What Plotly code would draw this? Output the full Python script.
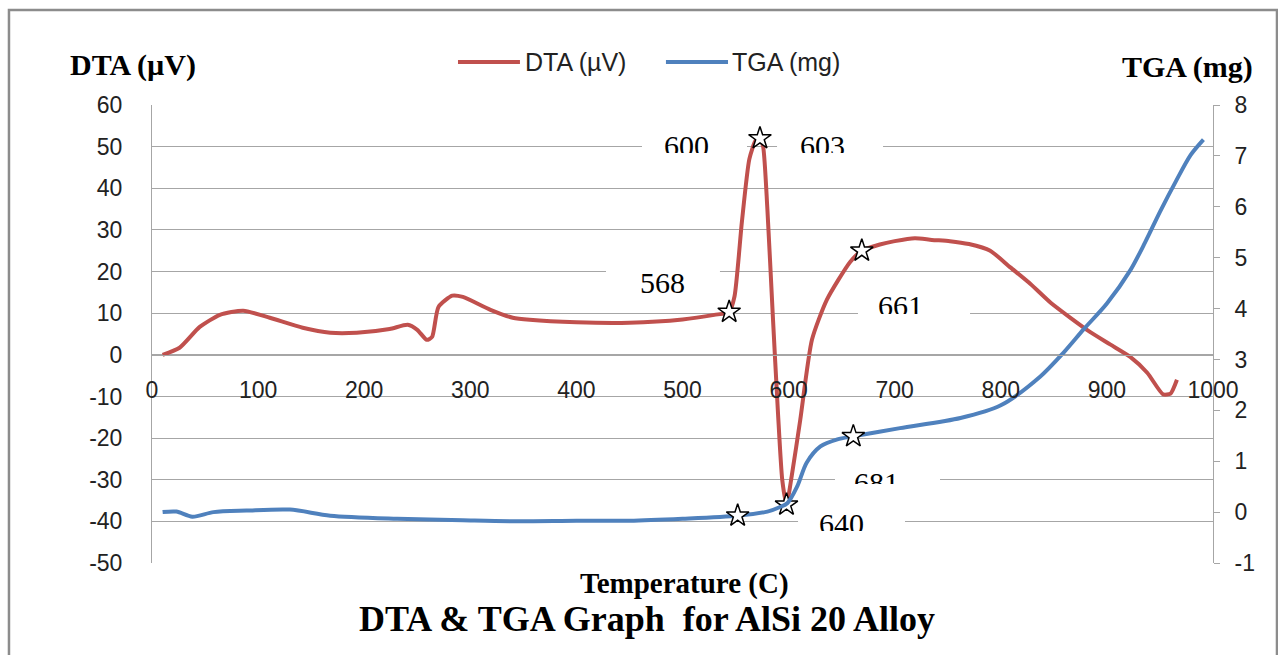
import plotly.graph_objects as go

# ---------------- data ----------------
dta_T = [10, 26, 45, 64, 86, 111, 142, 168, 193, 224, 241, 250, 259, 264, 270, 283, 293, 319, 340, 356,
         400, 450, 500, 530, 544, 549, 556, 563, 569, 573, 576, 580, 585, 590, 594, 598, 603, 611, 622,
         636, 658, 669, 686, 700, 719, 735, 752, 770, 790, 809, 828, 847, 865, 884, 903, 922, 938, 953,
         960, 966]
dta_v = [0, 1.7, 6.7, 9.6, 10.6, 8.9, 6.5, 5.3, 5.3, 6.2, 7.2, 6.0, 3.6, 4.3, 11.5, 14.2, 13.9, 10.8, 8.9, 8.4,
         7.8, 7.7, 8.5, 9.6, 10.3, 14, 32, 47, 51.5, 52, 50, 35, 10, -14, -30, -36, -29, -15.6, 3.6,
         13.2, 22.3, 25, 26.5, 27.3, 28, 27.6, 27.3, 26.6, 25, 21, 17, 12.5, 9, 5.5, 2.5, -0.5, -4.3, -9.5,
         -9.3, -6]

tga_T = [10, 23, 38, 58, 89, 130, 168, 231, 293, 344, 400, 450, 500, 552, 580, 592, 599, 608, 617, 630,
         646, 661, 705, 762, 800, 837, 859, 878, 900, 922, 936, 950, 965, 979, 991]
tga_m = [0, 0.01, -0.09, 0, 0.03, 0.05, -0.07, -0.13, -0.16, -0.18, -0.17, -0.17, -0.13, -0.07, 0.01, 0.1,
         0.18, 0.5, 0.97, 1.29, 1.43, 1.49, 1.65, 1.85, 2.1, 2.66, 3.13, 3.59, 4.1, 4.75, 5.3, 5.9, 6.5,
         7.02, 7.32]

dta_star_T = [544, 573, 598, 669]
dta_star_v = [10.3, 52, -36, 25]
tga_star_T = [552, 661]
tga_star_m = [-0.07, 1.49]

# data-label texts and their anchor (temperature, DTA value)
label_text = ["600", "603", "568", "661", "681", "640"]
label_T = [503.8, 631.5, 481.6, 705, 683.3, 649.4]
label_v = [54.5, 54.5, 21.5, 16.1, -26.4, -36.3]

x_ticks = list(range(0, 1001, 100))
x_ticktext = [str(v) for v in x_ticks]
dta_ticks = list(range(-50, 61, 10))
dta_ticktext = [str(v) for v in dta_ticks]
tga_ticks = list(range(-1, 9, 1))
tga_ticktext = [str(v) for v in tga_ticks]

# ---------------- styling ----------------
RED = "#C0504D"
BLUE = "#4F81BD"
GRID = "#A6A6A6"
SANS = "Liberation Sans"
SERIF = "Liberation Serif"

# white label boxes (x0, x1 in temperature units; y0, y1 in DTA units)
label_boxes = [(461.8, 560.8, 48.3, 55.0), (589.1, 689.0, 48.3, 55.0), (427.9, 535.3, 15.6, 21.4),
               (665.4, 771.0, 9.4, 16.1), (643.7, 742.7, -30.8, -26.4), (608.9, 709.7, -42.0, -36.3)]
clip_heights = [24, 24, 40, 25, 18, 24]

fig = go.Figure()
fig.add_trace(go.Scatter(x=dta_T, y=dta_v, mode="lines", name="DTA (µV)",
                         line=dict(color=RED, width=4, shape="spline", smoothing=0.6),
                         yaxis="y"))
fig.add_trace(go.Scatter(x=tga_T, y=tga_m, mode="lines", name="TGA (mg)",
                         line=dict(color=BLUE, width=4, shape="spline", smoothing=0.8),
                         yaxis="y2"))
fig.add_trace(go.Scatter(x=dta_star_T, y=dta_star_v, mode="markers", showlegend=False,
                         marker=dict(symbol="star", size=17, color="white",
                                     line=dict(color="black", width=1.5)), yaxis="y"))
fig.add_trace(go.Scatter(x=tga_star_T, y=tga_star_m, mode="markers", showlegend=False,
                         marker=dict(symbol="star", size=17, color="white",
                                     line=dict(color="black", width=1.5)), yaxis="y2"))

annotations = []
for t, xv, yv, h in zip(label_text, label_T, label_v, clip_heights):
    annotations.append(dict(x=xv, y=yv, xref="x", yref="y", text=t, showarrow=False,
                            xanchor="center", yanchor="top", valign="top",
                            height=h, borderpad=0,
                            font=dict(family=SERIF, size=30, color="black")))

# axis titles and chart title
annotations += [
    dict(x=-0.0792, y=1.087, xref="paper", yref="paper", text="<b>DTA (µV)</b>", showarrow=False,
         xanchor="left", yanchor="middle", font=dict(family=SERIF, size=30, color="black")),
    dict(x=1.0396, y=1.083, xref="paper", yref="paper", text="<b>TGA (mg)</b>", showarrow=False,
         xanchor="right", yanchor="middle", font=dict(family=SERIF, size=30, color="black")),
    dict(x=0.502, y=-0.0437, xref="paper", yref="paper", text="<b>Temperature (C)</b>", showarrow=False,
         xanchor="center", yanchor="middle", font=dict(family=SERIF, size=29, color="black")),
    dict(x=0.4665, y=-0.122, xref="paper", yref="paper", text="<b>DTA &amp; TGA Graph  for AlSi 20 Alloy</b>",
         showarrow=False, xanchor="center", yanchor="middle",
         font=dict(family=SERIF, size=36, color="black")),
    dict(x=0.3497, y=1.0939, xref="paper", yref="paper", text="DTA (µV)", showarrow=False,
         xanchor="left", yanchor="middle", font=dict(family=SANS, size=25, color="#222")),
    dict(x=0.5448, y=1.0939, xref="paper", yref="paper", text="TGA (mg)", showarrow=False,
         xanchor="left", yanchor="middle", font=dict(family=SANS, size=25, color="#222")),
]

shapes = [
    dict(type="line", xref="paper", yref="paper", x0=0.2884, x1=0.3468, y0=1.0939, y1=1.0939,
         line=dict(color=RED, width=4)),
    dict(type="line", xref="paper", yref="paper", x0=0.4844, x1=0.5429, y0=1.0939, y1=1.0939,
         line=dict(color=BLUE, width=4)),
    dict(type="rect", xref="paper", yref="paper", x0=-0.1348, x1=1.0603, y0=-0.3, y1=1.2074,
         line=dict(color="#8C8C8C", width=2.5), layer="below"),
]
for x0, x1, y0, y1 in label_boxes:
    shapes.append(dict(type="rect", xref="x", yref="y", x0=x0, x1=x1, y0=y0, y1=y1,
                       fillcolor="white", line=dict(width=0), layer="between"))

fig.update_layout(
    width=1278, height=655,
    margin=dict(l=152, r=65, t=105, b=92),
    paper_bgcolor="white", plot_bgcolor="white",
    showlegend=False,
    annotations=annotations,
    shapes=shapes,
    xaxis=dict(range=[0, 1000], tickvals=x_ticks, ticktext=x_ticktext, ticks="", showgrid=False,
               zeroline=False, showline=True, linecolor=GRID, linewidth=1,
               anchor="free", position=0.4541, ticklabelstandoff=14,
               tickfont=dict(family=SANS, size=23, color="#222")),
    yaxis=dict(range=[-50, 60], tickvals=dta_ticks, ticktext=dta_ticktext, showgrid=True,
               gridcolor=GRID, gridwidth=1,
               zeroline=False, showline=True, linecolor=GRID, linewidth=1, ticks="",
               ticklabelstandoff=24,
               tickfont=dict(family=SANS, size=23, color="#222")),
    yaxis2=dict(range=[-1, 8], tickvals=tga_ticks, ticktext=tga_ticktext, overlaying="y", side="right",
                showgrid=False, zeroline=False, showline=True, linecolor=GRID, linewidth=1,
                ticks="outside", ticklen=6, tickcolor=GRID, ticklabelstandoff=10,
                tickfont=dict(family=SANS, size=23, color="#222")),
)

fig.write_html("out.html", post_script="document.body.style.margin='0';",
               config={"displayModeBar": False})
